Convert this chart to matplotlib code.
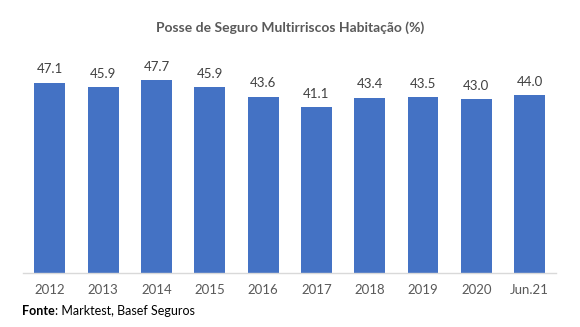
import matplotlib.pyplot as plt

plt.rcParams['font.family'] = ['Lato', 'DejaVu Sans']

categories = ['2012', '2013', '2014', '2015', '2016', '2017', '2018', '2019', '2020', 'Jun.21']
values = [47.1, 45.9, 47.7, 45.9, 43.6, 41.1, 43.4, 43.5, 43.0, 44.0]

fig = plt.figure(figsize=(5.8, 3.27), dpi=100)
ax = fig.add_axes([0.04, 0.165, 0.919, 0.68])

x = range(len(categories))
bars = ax.bar(x, values, width=0.58, color='#4472C4', zorder=2)
for xi, v in zip(x, values):
    ax.text(xi, v + 1.8, f'{v:.1f}', ha='center', va='bottom', fontsize=9.5, color='#404040')

ax.set_xlim(-0.5, len(categories) - 0.5)
ax.set_ylim(0, 55)
ax.set_xticks(list(x))
ax.set_xticklabels(categories, fontsize=9.5, color='#595959')
ax.tick_params(axis='x', length=0, pad=8)
ax.set_yticks([])
for s in ['top', 'right', 'left']:
    ax.spines[s].set_visible(False)
ax.spines['bottom'].set_color('#D9D9D9')
ax.spines['bottom'].set_linewidth(1)

fig.text(0.5, 0.915, 'Posse de Seguro Multirriscos Habitação (%)', ha='center', va='center',
         fontsize=10, fontweight='bold', color='#595959')
fig.text(0.038, 0.048, 'Fonte', ha='left', va='center', fontsize=9, fontweight='bold', color='black')
fig.text(0.094, 0.048, ': Marktest, Basef Seguros', ha='left', va='center', fontsize=9, color='black')

fig.savefig('out.png', dpi=100)
